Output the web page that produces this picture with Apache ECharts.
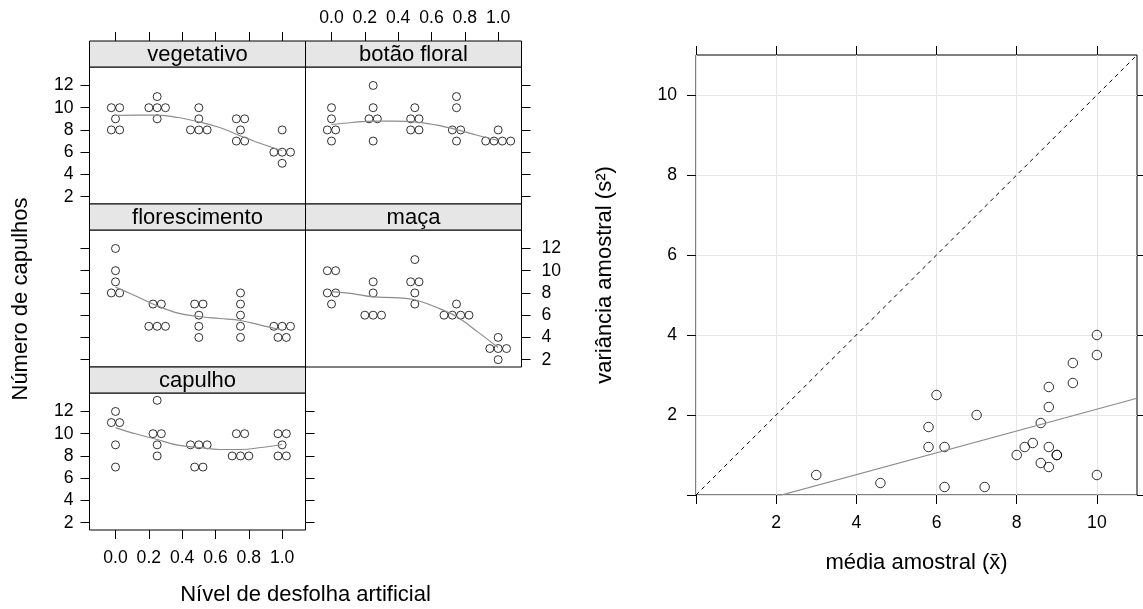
<!DOCTYPE html>
<html>
<head>
<meta charset="utf-8">
<script src="https://cdn.jsdelivr.net/npm/echarts@6/dist/echarts.min.js"></script>
<style>
  html, body { margin: 0; padding: 0; background: #fff; }
  #main { width: 1143px; height: 609px; }
</style>
</head>
<body>
<div id="main"></div>
<script>
// níveis de desfolha (eixo x dos painéis)
var levels = [0, 0.25, 0.5, 0.75, 1];
var xTicks = [0, 0.2, 0.4, 0.6, 0.8, 1.0];
var yTicks = [2, 4, 6, 8, 10, 12];
var rTicks = [0, 2, 4, 6, 8, 10];

// número de capulhos, 5 repetições por nível
var vegetativo    = [[10, 10, 9, 8, 8], [11, 10, 10, 10, 9], [10, 9, 8, 8, 8], [9, 9, 8, 7, 7], [8, 6, 6, 6, 5]];
var botaoFloral   = [[10, 9, 8, 8, 7], [12, 10, 9, 9, 7], [10, 9, 9, 8, 8], [11, 10, 8, 8, 7], [8, 7, 7, 7, 7]];
var florescimento = [[12, 10, 9, 8, 8], [7, 7, 5, 5, 5], [7, 7, 6, 5, 4], [8, 7, 6, 5, 4], [5, 5, 5, 4, 4]];
var maca          = [[10, 10, 8, 8, 7], [9, 8, 6, 6, 6], [11, 9, 9, 8, 7], [7, 6, 6, 6, 6], [4, 3, 3, 3, 2]];
var capulho       = [[12, 11, 11, 9, 7], [13, 10, 10, 9, 8], [9, 9, 9, 7, 7], [10, 10, 8, 8, 8], [10, 10, 9, 8, 8]];

// curvas suavizadas
var curveX        = [0, 0.125, 0.25, 0.375, 0.5, 0.625, 0.75, 0.875, 1];
var curveVeg      = [9.31, 9.33, 9.33, 9.12, 8.73, 8.22, 7.46, 6.76, 6.15];
var curveBotao    = [8.49, 8.67, 8.79, 8.79, 8.73, 8.45, 8.03, 7.52, 7.06];
var curveFlor     = [8.52, 7.70, 6.85, 6.18, 5.88, 5.70, 5.52, 5.09, 4.67];
var curveMaca     = [8.12, 7.94, 7.64, 7.58, 7.39, 6.73, 5.88, 4.52, 3.09];
var curveCapulho  = [10.55, 9.97, 9.48, 8.97, 8.76, 8.58, 8.58, 8.76, 9.03];

var FONT = '"Liberation Sans", Arial, sans-serif';
var myChart = echarts.init(document.getElementById('main'));

var panels = [
  { name: 'vegetativo',    data: vegetativo,    curve: curveVeg,     col: 0, row: 0 },
  { name: 'botão floral',  data: botaoFloral,   curve: curveBotao,   col: 1, row: 0 },
  { name: 'florescimento', data: florescimento, curve: curveFlor,    col: 0, row: 1 },
  { name: 'maça',          data: maca,          curve: curveMaca,    col: 1, row: 1 },
  { name: 'capulho',       data: capulho,       curve: curveCapulho, col: 0, row: 2 }
];

var colLeft = [89.5, 305.5], rowTop = [41, 204, 367];
var panelW = 216, stripH = 26, plotH = 137;
var xMin = -0.156, xMax = 1.14, yMin = 1.34, yMax = 13.66;

var grids = [], xAxes = [], yAxes = [], series = [], graphics = [];

function axisX(g, pos, ticks, labels, offset) {
  return {
    type: 'value', gridIndex: g, position: pos, offset: offset || 0, min: xMin, max: xMax,
    axisLine: { show: false, onZero: false }, splitLine: { show: false },
    axisTick: { show: ticks, customValues: xTicks, length: 9, lineStyle: { color: '#000' } },
    axisLabel: { show: labels, customValues: xTicks, margin: pos === 'top' ? 14 : 19,
      formatter: function (v) { return v.toFixed(1); }, color: '#000', fontSize: 17.6, fontFamily: FONT }
  };
}
function axisY(g, pos, ticks, labels) {
  return {
    type: 'value', gridIndex: g, position: pos, min: yMin, max: yMax,
    axisLine: { show: false, onZero: false }, splitLine: { show: false },
    axisTick: { show: ticks, customValues: yTicks, length: 9, lineStyle: { color: '#000' } },
    axisLabel: { show: labels, customValues: yTicks, margin: pos === 'right' ? 20 : 16,
      color: '#000', fontSize: 17.6, fontFamily: FONT }
  };
}

panels.forEach(function (p, g) {
  var left = colLeft[p.col], top = rowTop[p.row] + stripH;
  grids.push({ left: left, top: top, width: panelW, height: plotH, show: true,
    borderColor: '#000', borderWidth: 1, backgroundColor: 'transparent' });

  // eixos: ticks / rótulos alternados como no lattice
  var xi = xAxes.length;
  xAxes.push(axisX(g, 'bottom', p.row === 2, p.row === 2));
  if (p.row === 0) xAxes.push(axisX(g, 'top', true, p.col === 1, stripH));
  var yi = yAxes.length;
  yAxes.push(axisY(g, 'left', p.col === 0, p.col === 0 && p.row !== 1));
  if (p.col === 1 || p.row === 2) yAxes.push(axisY(g, 'right', true, p.col === 1 && p.row === 1));

  // pontos, repetidos espalhados lado a lado
  var pts = [];
  p.data.forEach(function (vals, li) {
    var counts = {};
    vals.forEach(function (v) { counts[v] = (counts[v] || 0) + 1; });
    var seen = {};
    vals.forEach(function (v) {
      var k = seen[v] || 0; seen[v] = k + 1;
      var off = (k - (counts[v] - 1) / 2) * 0.05;
      pts.push([levels[li] + off, v]);
    });
  });
  series.push({
    type: 'scatter', xAxisIndex: xi, yAxisIndex: yi, data: pts, symbol: 'circle', symbolSize: 8,
    itemStyle: { color: 'transparent', borderColor: '#000', borderWidth: 1 }, silent: true
  });
  series.push({
    type: 'line', xAxisIndex: xi, yAxisIndex: yi, smooth: 0.4, showSymbol: false,
    data: curveX.map(function (x, i) { return [x, p.curve[i]]; }),
    lineStyle: { color: '#8c8c8c', width: 1.2 }, silent: true
  });

  // strip
  graphics.push({ type: 'rect', shape: { x: left, y: rowTop[p.row], width: panelW, height: stripH },
    style: { fill: '#e6e6e6', stroke: '#000', lineWidth: 1 }, z: 10 });
  graphics.push({ type: 'text', x: left + panelW / 2, y: rowTop[p.row] + stripH / 2 + 1,
    style: { text: p.name, fontSize: 22, fontFamily: FONT, fill: '#000', align: 'center', verticalAlign: 'middle' }, z: 11 });
});

// painel da direita: média x variância de cada grupo
var groups = [vegetativo, botaoFloral, florescimento, maca, capulho];
var meanVar = [];
groups.forEach(function (st) {
  st.forEach(function (vals) {
    var n = vals.length, m = vals.reduce(function (a, b) { return a + b; }, 0) / n;
    var s2 = vals.reduce(function (a, b) { return a + (b - m) * (b - m); }, 0) / (n - 1);
    meanVar.push([m, s2]);
  });
});
var mx = 0, my = 0;
meanVar.forEach(function (d) { mx += d[0]; my += d[1]; });
mx /= meanVar.length; my /= meanVar.length;
var sxy = 0, sxx = 0;
meanVar.forEach(function (d) { sxy += (d[0] - mx) * (d[1] - my); sxx += (d[0] - mx) * (d[0] - mx); });
var slope = sxy / sxx, intercept = my - slope * mx;
var rMax = 11;

var rg = grids.length;
grids.push({ left: 696, top: 55, width: 441, height: 440, show: true,
  borderColor: '#000', borderWidth: 1, backgroundColor: 'transparent' });
var hideZero = function (v) { return v === 0 ? '' : v; };
function rAxis(kind, pos, withLabels) {
  return {
    type: 'value', gridIndex: rg, position: pos, min: 0, max: rMax,
    axisLine: { show: false, onZero: false },
    splitLine: { show: withLabels, lineStyle: { color: '#e6e6e6', width: 1 } },
    axisTick: { customValues: rTicks, length: 9, lineStyle: { color: '#000' } },
    axisLabel: { show: withLabels, customValues: rTicks, formatter: hideZero, margin: 19,
      color: '#000', fontSize: 17.6, fontFamily: FONT }
  };
}
var rxi = xAxes.length;
xAxes.push(rAxis('x', 'bottom', true));
xAxes.push(rAxis('x', 'top', false));
var ryi = yAxes.length;
yAxes.push(rAxis('y', 'left', true));
yAxes.push(rAxis('y', 'right', false));
// linhas de grade nos mesmos valores dos ticks
xAxes[rxi].interval = 2;
yAxes[ryi].interval = 2;

series.push({
  type: 'line', xAxisIndex: rxi, yAxisIndex: ryi, showSymbol: false, silent: true,
  data: [[0, 0], [rMax, rMax]], lineStyle: { color: '#000', width: 1, type: [4, 4] }
});
series.push({
  type: 'line', xAxisIndex: rxi, yAxisIndex: ryi, showSymbol: false, silent: true, clip: true,
  data: [[0, intercept], [rMax, intercept + slope * rMax]], lineStyle: { color: '#8c8c8c', width: 1.2 }
});
series.push({
  type: 'scatter', xAxisIndex: rxi, yAxisIndex: ryi, data: meanVar, symbolSize: 9.5, silent: true,
  itemStyle: { color: 'transparent', borderColor: '#000', borderWidth: 1 }
});

// títulos dos eixos
function label(text, x, y, rot) {
  graphics.push({ type: 'text', x: x, y: y, rotation: rot || 0,
    style: { text: text, fontSize: 22, fontFamily: FONT, fill: '#000', align: 'center', verticalAlign: 'middle' } });
}
label('Número de capulhos', 21, 299, Math.PI / 2);
label('Nível de desfolha artificial', 305.5, 595);
label('variância amostral (s²)', 605, 275, Math.PI / 2);
label('média amostral (x\u0304)', 916.5, 563);

option = {
  backgroundColor: '#fff',
  animation: false,
  grid: grids,
  xAxis: xAxes,
  yAxis: yAxes,
  series: series,
  graphic: graphics
};
myChart.setOption(option);
</script>
</body>
</html>
